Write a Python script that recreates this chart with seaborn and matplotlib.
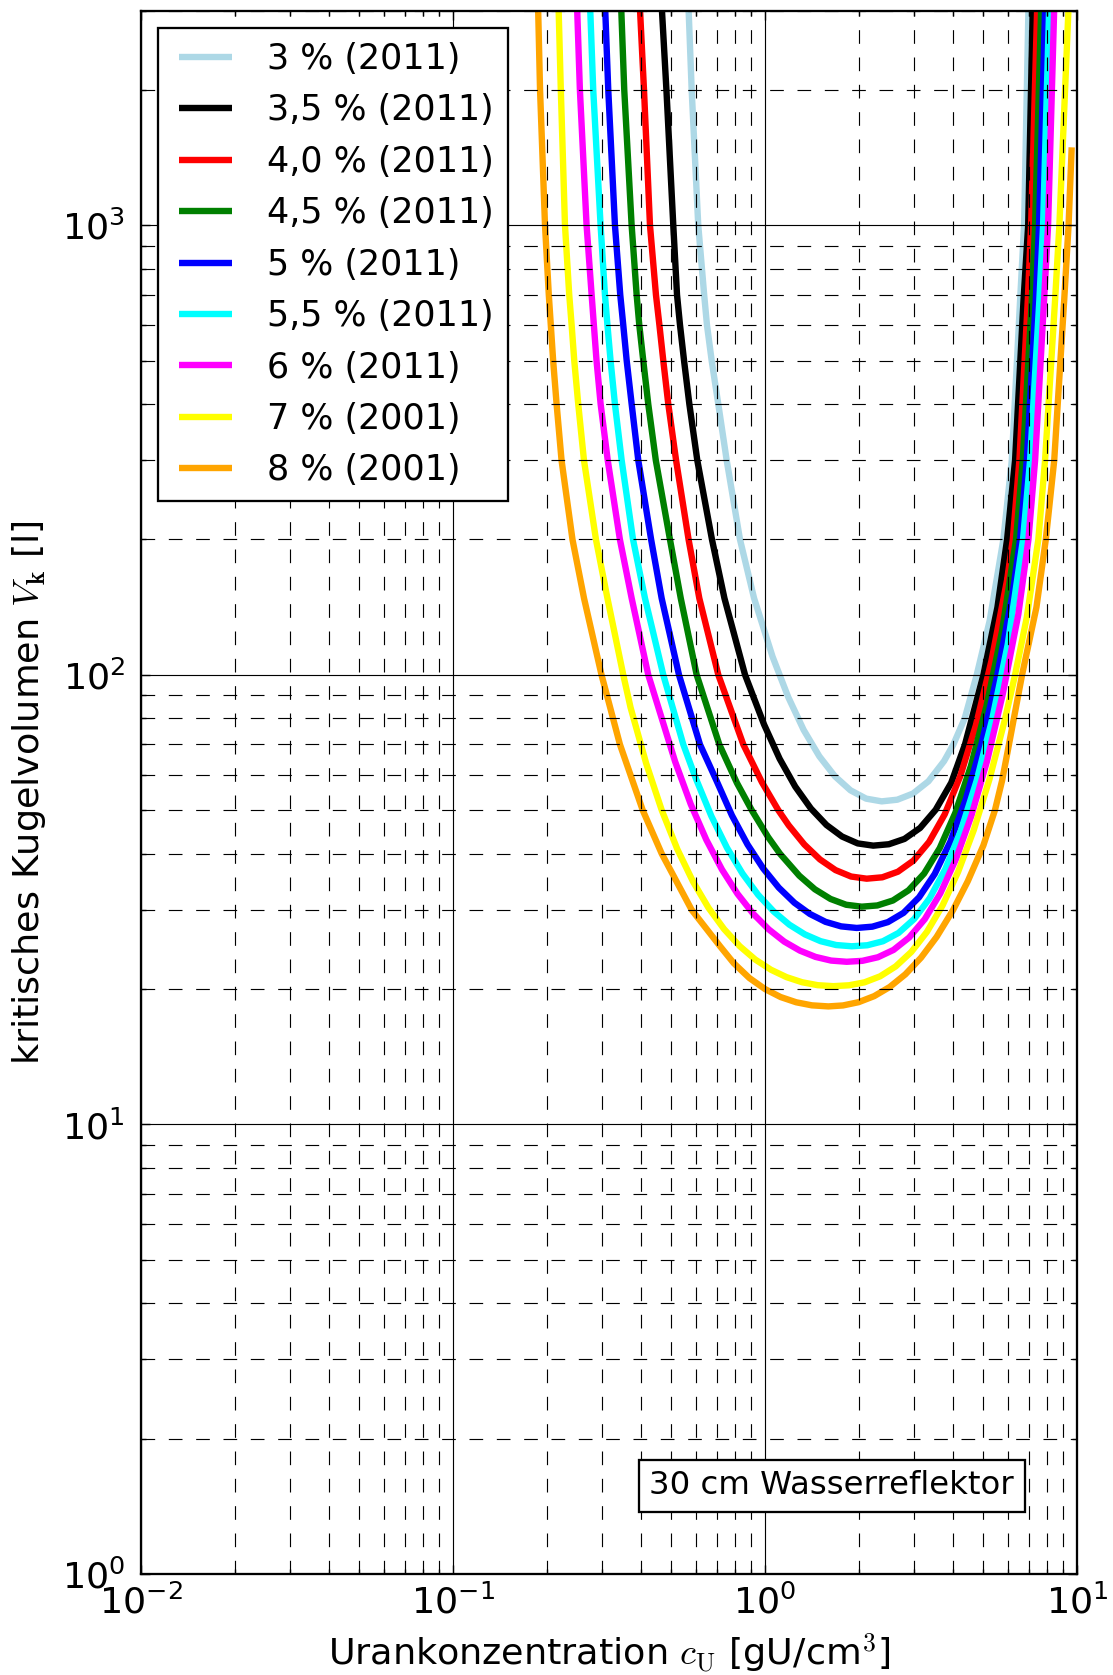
import matplotlib
matplotlib.use("Agg")
import matplotlib.pyplot as plt
from matplotlib.lines import Line2D
from matplotlib.legend_handler import HandlerLine2D
import pandas as pd
import seaborn as sns

# Enrichment series: uranium concentration c_U [gU/cm^3] and critical sphere volume V_k [l]
labels = ["3 % (2011)", "3,5 % (2011)", "4,0 % (2011)", "4,5 % (2011)", "5 % (2011)",
          "5,5 % (2011)", "6 % (2011)", "7 % (2001)", "8 % (2001)"]
colors = ["lightblue", "black", "red", "green", "blue", "cyan", "magenta", "yellow", "orange"]

c_30 = [0.5692, 0.5821, 0.6110, 0.6383, 0.6516, 0.6746, 0.7084, 0.7537, 0.8314, 0.9226,
        1.057, 1.186, 1.330, 1.493, 1.675, 1.879, 2.109, 2.366, 2.655, 2.979,
        3.342, 3.750, 4.016, 4.365, 4.772, 5.248, 5.808, 6.180, 6.572, 6.768, 6.987]
v_30 = [3000, 2000, 1000, 700, 600, 500, 400, 300, 200, 148,
        109.8, 89.33, 75.41, 65.89, 59.47, 55.35, 53.04, 52.3, 52.75, 54.42,
        57.97, 64.29, 70, 79.98, 100, 131.8, 200, 300, 682, 1000, 3000]

c_35 = [0.4675, 0.4831, 0.5082, 0.5224, 0.5340, 0.5502, 0.5722, 0.6067, 0.6761, 0.7413,
        0.8630, 0.9931, 1.114, 1.250, 1.403, 1.574, 1.766, 1.982, 2.223, 2.495,
        2.799, 3.141, 3.524, 3.954, 4.375, 5.012, 5.559, 5.970, 6.332, 6.740, 6.975, 7.211]
v_35 = [3000, 2000, 1000, 700, 600, 500, 400, 300, 200, 148,
        100, 77.52, 65.05, 56.41, 50.42, 46.34, 43.68, 42.17, 41.69, 41.99,
        43.15, 45.64, 50.10, 57.56, 70, 100, 141.3, 200, 300, 682, 1000, 3000]

c_40 = [0.3977, 0.4094, 0.4279, 0.4472, 0.4587, 0.4720, 0.4898, 0.5188, 0.5689, 0.6158,
        0.7085, 0.8519, 0.9772, 1.103, 1.191, 1.337, 1.500, 1.683, 1.888, 2.118,
        2.377, 2.667, 2.992, 3.357, 3.767, 4.227, 4.742, 5.321, 5.970, 6.227,
        6.537, 6.955, 7.126, 7.449]
v_40 = [3000, 2000, 1000, 700, 600, 500, 400, 300, 200, 148,
        100, 70, 57.7, 50, 46.27, 41.93, 38.85, 36.78, 35.59, 35.2,
        35.45, 36.48, 38.62, 42.49, 48.94, 59.55, 77.24, 107.6, 162.6, 200,
        300, 682, 1000, 3000]

c_45 = [0.3463, 0.3539, 0.3737, 0.3878, 0.3954, 0.4072, 0.4225, 0.4467, 0.4959, 0.5370,
        0.6039, 0.7137, 0.8128, 0.9066, 1.023, 1.117, 1.288, 1.445, 1.622, 1.820,
        2.042, 2.291, 2.570, 2.884, 3.236, 3.631, 4.074, 4.571, 5.129, 5.754,
        6.376, 6.702, 7.164, 7.340, 7.672]
v_45 = [3000, 2000, 1000, 700, 600, 500, 400, 300, 200, 148,
        100, 70, 57.48, 50, 43.57, 40, 35.74, 33.34, 31.73, 30.80,
        30.5, 30.69, 31.48, 33.16, 36.14, 41.16, 49.32, 62.72, 85.31, 125.2,
        200, 300, 682, 1000, 3000]

c_50 = [0.3076, 0.3145, 0.3304, 0.3436, 0.3513, 0.3603, 0.3738, 0.3925, 0.4315, 0.4664,
        0.5300, 0.6188, 0.6982, 0.7834, 0.8790, 0.9863, 1.107, 1.242, 1.393, 1.563,
        1.754, 1.968, 2.208, 2.477, 2.780, 3.119, 3.499, 3.926, 4.406, 4.943,
        5.546, 6.223, 6.572, 6.902, 7.377, 7.558, 7.900]
v_50 = [3000, 2000, 1000, 700, 600, 500, 400, 300, 200, 148,
        100, 70, 58.27, 48.67, 41.93, 37.11, 33.62, 31.12, 29.38, 28.22,
        27.57, 27.35, 27.53, 28.18, 29.55, 32.01, 36.06, 42.54, 52.97, 70.13,
        99.40, 152.1, 200, 300, 682, 1000, 3000]

c_55 = [0.2754, 0.2815, 0.2972, 0.3069, 0.3126, 0.3199, 0.3304, 0.3472, 0.3776, 0.4124,
        0.4720, 0.5471, 0.5998, 0.6730, 0.7551, 0.8472, 0.9506, 1.067, 1.197, 1.343,
        1.507, 1.690, 1.897, 2.128, 2.388, 2.679, 3.006, 3.373, 3.784, 4.246,
        4.764, 5.346, 5.998, 6.714, 7.074, 7.576, 7.786, 8.139]
v_55 = [3000, 2000, 1000, 700, 600, 500, 400, 300, 200, 148,
        100, 70, 58.88, 48.50, 41.25, 36.12, 32.41, 29.74, 27.81, 26.46,
        25.56, 25.06, 24.9, 25.03, 25.55, 26.66, 28.63, 31.86, 36.98, 45.05,
        58.03, 79.56, 116.8, 200, 300, 682, 1000, 3000]

c_60 = [0.2501, 0.2551, 0.2680, 0.2782, 0.2828, 0.2884, 0.2973, 0.3133, 0.3427, 0.3738,
        0.4225, 0.4592, 0.5152, 0.5781, 0.6486, 0.7278, 0.8166, 0.9162, 1.028, 1.153,
        1.294, 1.452, 1.629, 1.828, 2.051, 2.301, 2.582, 2.897, 3.251, 3.648,
        4.093, 4.592, 5.152, 5.781, 6.486, 6.988, 7.340, 7.843, 8.078, 8.447]
v_60 = [3000, 2000, 1000, 700, 600, 500, 400, 300, 200, 148,
        100, 82.98, 64.10, 51.54, 42.95, 36.89, 32.56, 29.42, 27.15, 25.50,
        24.35, 23.58, 23.14, 23.0, 23.11, 23.54, 24.44, 26.04, 28.61, 32.66,
        38.92, 48.71, 64.43, 90.60, 136.3, 200, 300, 682, 1000, 3000]

c_70 = [0.2181, 0.2216, 0.2285, 0.2358, 0.2400, 0.2447, 0.2520, 0.2629, 0.2872, 0.3126,
        0.3513, 0.3707, 0.4159, 0.4667, 0.5236, 0.5875, 0.6592, 0.7396, 0.8299, 0.9311,
        1.045, 1.172, 1.315, 1.476, 1.656, 1.858, 2.084, 2.339, 2.624, 2.944,
        3.304, 3.707, 4.159, 4.667, 5.236, 5.875, 6.332, 6.902, 7.518, 7.900,
        8.507, 8.781, 9.385]
v_70 = [3000, 2000, 1000, 700, 600, 500, 400, 300, 200, 148,
        100, 84.62, 63.58, 49.99, 40.94, 34.70, 30.31, 27.18, 24.91, 23.26,
        22.08, 21.26, 20.71, 20.40, 20.3, 20.39, 20.70, 21.35, 22.46, 24.19,
        26.81, 30.69, 36.46, 45.12, 58.43, 79.55, 100, 134.1, 200, 300,
        682, 1000, 3000]

c_80 = [0.1875, 0.1901, 0.1972, 0.2028, 0.2094, 0.2148, 0.2228, 0.2415, 0.2630, 0.2992,
        0.3428, 0.4055, 0.4667, 0.5821, 0.7178, 0.7943, 0.8913, 1.000, 1.122, 1.259,
        1.413, 1.596, 1.778, 1.995, 2.239, 2.512, 2.818, 3.162, 3.548, 4.009,
        4.467, 5.012, 5.458, 5.754, 6.053, 6.668, 7.413, 7.943, 8.453, 9.099,
        9.397, 9.616]
v_80 = [3000, 2000, 1000, 700, 500, 400, 300, 200, 148, 100,
        70, 50, 40, 30, 24.9, 22.83, 21.16, 20.0, 19.20, 18.69,
        18.40, 18.3, 18.39, 18.70, 19.29, 20.22, 21.57, 23.48, 26.12, 30,
        34.75, 41.75, 50, 58.2, 70, 100, 141.3, 200, 300, 682,
        1000, 1490]

x_ticks = [1e-2, 1e-1, 1e0, 1e1]
y_ticks = [1e0, 1e1, 1e2, 1e3]

curves = [(c_30, v_30), (c_35, v_35), (c_40, v_40), (c_45, v_45), (c_50, v_50),
          (c_55, v_55), (c_60, v_60), (c_70, v_70), (c_80, v_80)]

df = pd.concat(
    [pd.DataFrame({"c": c, "V": v, "Anreicherung": lab})
     for lab, (c, v) in zip(labels, curves)],
    ignore_index=True)

plt.rcParams.update({
    "font.family": ["DejaVu Sans"],
    "mathtext.fontset": "cm",
    "axes.unicode_minus": False,
    "axes.linewidth": 1.0,
})

DPI = 164
fig = plt.figure(figsize=(1113 / DPI, 1675 / DPI), dpi=DPI, facecolor="white")
ax = fig.add_axes([141 / 1113, 1 - 1574 / 1675, (1077 - 141) / 1113, (1574 - 10.7) / 1675])
ax.set_facecolor("white")
ax.set_xscale("log")
ax.set_yscale("log")

sns.lineplot(data=df, x="c", y="V", hue="Anreicherung", hue_order=labels,
             palette=dict(zip(labels, colors)), sort=False, estimator=None,
             units="Anreicherung", linewidth=2.8, legend=False, ax=ax)
for ln in ax.lines:
    ln.set_solid_capstyle("butt")
    ln.set_solid_joinstyle("round")

ax.set_xlim(1e-2, 1e1)
ax.set_ylim(1, 3000)
ax.set_xticks(x_ticks)
ax.set_yticks(y_ticks)

ax.grid(True, which="major", color="black", linestyle="-", linewidth=0.5)
ax.grid(True, which="minor", color="black", linestyle=(0, (12, 12)), linewidth=0.5)
ax.set_axisbelow(False)

ax.tick_params(which="both", direction="in", top=True, right=True, labelsize=16, width=0.6)
ax.tick_params(which="major", length=4)
ax.tick_params(which="minor", length=2)
ax.tick_params(axis="x", which="major", pad=4.5)
ax.tick_params(axis="y", which="major", pad=7)
for s in ax.spines.values():
    s.set_linewidth(1.0)
    s.set_color("black")

ax.set_xlabel(r"Urankonzentration $c_\mathrm{U}$ [gU/cm$^3$]", fontsize=16, labelpad=5)
ax.set_ylabel(r"kritisches Kugelvolumen $V_\mathbf{k}$ [l]", fontsize=16, labelpad=6)

leg = ax.legend(ax.lines[:len(labels)], labels, loc="upper left", fontsize=15.3,
                handlelength=1.72, handletextpad=1.0, labelspacing=0.5,
                borderpad=0.4, borderaxespad=0.5, fancybox=False, framealpha=1,
                edgecolor="black", handler_map={Line2D: HandlerLine2D(xpad=0.18)})
leg.get_frame().set_linewidth(1.0)

ax.text(0.9329, 0.0464, "30 cm Wasserreflektor", transform=ax.transAxes,
        ha="right", va="bottom", fontsize=14.2, zorder=5,
        bbox=dict(boxstyle="square,pad=0.33", facecolor="white", edgecolor="black",
                  linewidth=1.0))

fig.savefig("out.png", dpi=DPI, facecolor="white")
